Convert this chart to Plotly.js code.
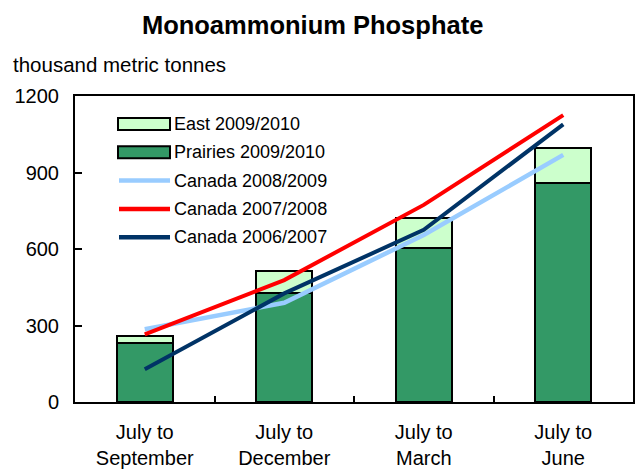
<!DOCTYPE html>
<html>
<head>
<meta charset="utf-8">
<script src="https://cdn.plot.ly/plotly-3.0.1.min.js"></script>
<style>
  body { margin: 0; background: #fff; }
  #chart { width: 638px; height: 470px; }
</style>
</head>
<body>
<div id="chart"></div>
<script>
// data (thousand metric tonnes)
var periods = ["July to<br>September", "July to<br>December", "July to<br>March", "July to<br>June"];
var prairies0910 = [230, 428, 603, 858];
var east0910 = [29, 87, 117, 139];
var canada0809 = [285, 389, 655, 969];
var canada0708 = [265, 478, 773, 1125];
var canada0607 = [128, 426, 675, 1089];

var names = ["East 2009/2010", "Prairies 2009/2010", "Canada 2008/2009", "Canada 2007/2008", "Canada 2006/2007"];
var colors = ["#CCFFCC", "#339966", "#99CCFF", "#FF0000", "#003366"];

var FONT = "Liberation Sans, Arial, Helvetica, sans-serif";

var traces = [
  {
    type: "bar", x: periods, y: prairies0910, name: names[1],
    marker: { color: colors[1], line: { color: "#000", width: 2 } },
    width: 0.4, showlegend: false, hoverinfo: "y"
  },
  {
    type: "bar", x: periods, y: east0910, name: names[0],
    marker: { color: colors[0], line: { color: "#000", width: 2 } },
    width: 0.4, showlegend: false, hoverinfo: "y"
  },
  {
    type: "scatter", mode: "lines", x: periods, y: canada0809, name: names[2],
    line: { color: colors[2], width: 4.5 }, showlegend: false
  },
  {
    type: "scatter", mode: "lines", x: periods, y: canada0708, name: names[3],
    line: { color: colors[3], width: 4 }, showlegend: false
  },
  {
    type: "scatter", mode: "lines", x: periods, y: canada0607, name: names[4],
    line: { color: colors[4], width: 4 }, showlegend: false
  }
];

// hand drawn legend, so the swatches can be wide rectangles like the original
var L = 75, T = 96, W = 558, H = 306;
function px(x) { return (x - L) / W; }
function py(y) { return (T + H - y) / H; }

var shapes = [];
var annotations = [];
for (var i = 0; i < names.length; i++) {
  var yc = 124 + i * 28.3;
  if (i < 2) {
    shapes.push({
      type: "rect", xref: "paper", yref: "paper",
      x0: px(118), x1: px(170), y0: py(yc - 6), y1: py(yc + 6),
      fillcolor: colors[i], line: { color: "#000", width: 2 }
    });
  } else {
    shapes.push({
      type: "line", xref: "paper", yref: "paper",
      x0: px(119), x1: px(170), y0: py(yc), y1: py(yc),
      line: { color: colors[i], width: 4.5 }
    });
  }
  annotations.push({
    text: names[i], xref: "paper", yref: "paper",
    x: px(172), y: py(yc), xanchor: "left", yanchor: "middle",
    showarrow: false, font: { family: FONT, size: 18, color: "#000" }
  });
}

annotations.push({
  text: "thousand metric tonnes", xref: "paper", yref: "paper",
  x: px(11), y: py(65), xanchor: "left", yanchor: "middle",
  showarrow: false, font: { family: FONT, size: 20.5, color: "#000" }
});

var layout = {
  width: 638, height: 470,
  margin: { l: L, r: 638 - L - W, t: T, b: 470 - T - H },
  paper_bgcolor: "#fff", plot_bgcolor: "#fff",
  font: { family: FONT, size: 20, color: "#000" },
  title: {
    text: "<b>Monoammonium Phosphate</b>",
    font: { family: FONT, size: 25.5, color: "#000" },
    x: 0.49, xanchor: "center", y: 0.947, yanchor: "middle"
  },
  barmode: "stack",
  showlegend: false,
  xaxis: {
    type: "category",
    showline: true, linecolor: "#000", linewidth: 2, mirror: true,
    ticks: "inside", tickson: "boundaries", ticklen: 6, tickwidth: 2, tickcolor: "#000",
    ticklabelstandoff: 11,
    showgrid: false, zeroline: false,
    tickfont: { family: FONT, size: 20, color: "#000" },
    fixedrange: true
  },
  yaxis: {
    range: [0, 1200], tickvals: [0, 300, 600, 900, 1200],
    showline: true, linecolor: "#000", linewidth: 2, mirror: true,
    ticks: "inside", ticklen: 7, tickwidth: 2, tickcolor: "#000",
    ticklabelstandoff: 10,
    showgrid: false, zeroline: false,
    tickfont: { family: FONT, size: 20, color: "#000" },
    fixedrange: true
  },
  shapes: shapes,
  annotations: annotations
};

Plotly.newPlot("chart", traces, layout, { displayModeBar: false, staticPlot: true });
</script>
</body>
</html>
